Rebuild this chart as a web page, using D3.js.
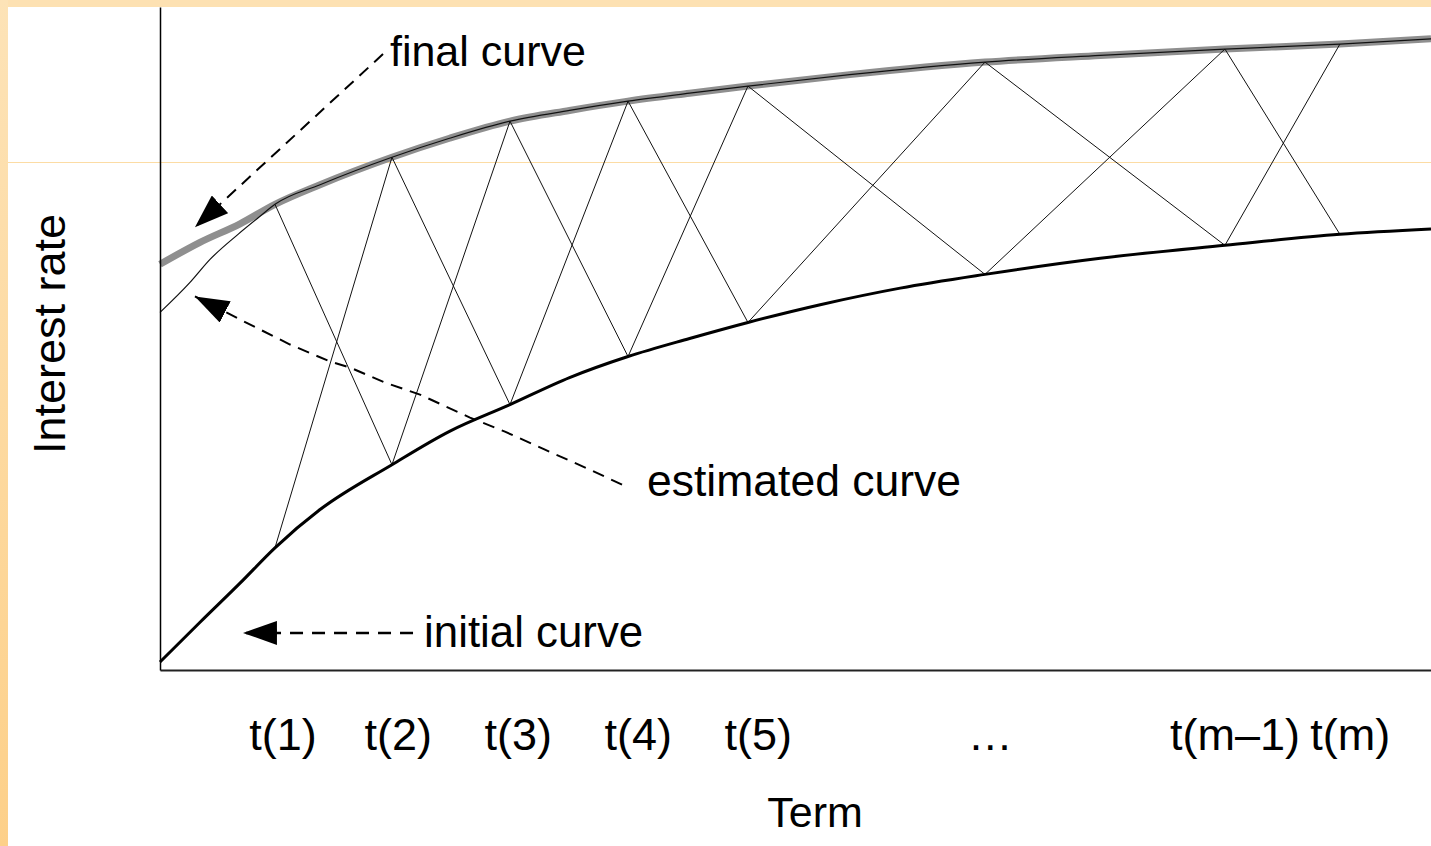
<!DOCTYPE html>
<html>
<head>
<meta charset="utf-8">
<script src="https://cdn.jsdelivr.net/npm/d3@7"></script>
<style>
  html, body { margin: 0; padding: 0; background: #ffffff; }
  svg { display: block; }
  text { font-family: "Liberation Sans", Arial, sans-serif; fill: #000; }
</style>
</head>
<body>
<svg id="chart" width="1431" height="846"></svg>
<script>
// ---------------- DATA ----------------
const tickLabels = ["t(1)", "t(2)", "t(3)", "t(4)", "t(5)", "…", "t(m–1)", "t(m)"];
const tickTerms  = [1.04, 2.02, 3.04, 4.06, 5.08, 7.05, 9.13, 10.11];

// node terms where the zig-zag lines meet the curves
const nodeTerms      = [0.977, 1.971, 2.974, 3.977, 4.996, 7.010, 9.049, 10.026];
const initialAtNodes = [1.843, 3.097, 4.003, 4.728, 5.242, 5.967, 6.405, 6.571];
const finalAtNodes   = [7.024, 7.734, 8.278, 8.580, 8.807, 9.169, 9.366, 9.441];

// initial curve
const initialTerms = [0, 0.34, 0.68, 0.977, 1.36, 1.971, 2.46, 2.974, 3.48, 3.977, 4.50, 4.996, 5.61, 6.29, 7.010, 7.99, 9.049, 10.026, 10.80];
const initialRates = [0.12, 0.72, 1.31, 1.843, 2.42, 3.097, 3.60, 4.003, 4.41, 4.728, 5.00, 5.242, 5.51, 5.76, 5.967, 6.21, 6.405, 6.571, 6.65];

// final curve
const finalTerms = [0, 0.34, 0.68, 0.977, 1.36, 1.971, 2.46, 2.974, 3.48, 3.977, 4.50, 4.996, 5.86, 7.010, 7.99, 9.049, 10.026, 10.80];
const finalRates = [6.12, 6.45, 6.73, 7.024, 7.32, 7.734, 8.02, 8.278, 8.44, 8.580, 8.70, 8.807, 8.98, 9.169, 9.27, 9.366, 9.441, 9.52];

// start of the estimated curve (it then follows the final curve)
const estimatedTerms = [0, 0.255, 0.425, 0.663, 0.850, 0.977];
const estimatedRates = [5.393, 5.846, 6.193, 6.571, 6.843, 7.024];

// annotation arrows (term, rate)
const finalArrowTerms = [1.895, 0.297];
const finalArrowRates = [9.290, 6.677];
const initialArrowTerms = [2.150, 0.705];
const initialArrowRates = [0.559, 0.559];
const estArrowTerms = [3.926, 3.654, 3.271, 2.931, 2.634, 2.209, 1.912, 1.614, 1.444, 1.105, 0.680, 0.297];
const estArrowRates = [2.795, 3.021, 3.323, 3.595, 3.807, 4.154, 4.335, 4.562, 4.653, 4.909, 5.287, 5.634];

// annotation labels
const annLabels = ["final curve", "estimated curve", "initial curve"];
const annTerms  = [1.954, 4.138, 2.244];
const annRates  = [9.109, 2.628, 0.347];

// ---------------- CHART ----------------
const W = 1431, H = 846;
const svg = d3.select("#chart");

// decorative border
const defs = svg.append("defs");
const grad = defs.append("linearGradient").attr("id", "leftGrad")
  .attr("x1", 0).attr("y1", 0).attr("x2", 0).attr("y2", 1);
grad.append("stop").attr("offset", "0%").attr("stop-color", "#fde3b7");
grad.append("stop").attr("offset", "100%").attr("stop-color", "#fdd089");

svg.append("rect").attr("x", 0).attr("y", 0).attr("width", W).attr("height", 7).attr("fill", "#fde1b2");
svg.append("rect").attr("x", 0).attr("y", 0).attr("width", 8).attr("height", H).attr("fill", "url(#leftGrad)");
svg.append("line").attr("x1", 8).attr("x2", W).attr("y1", 162.5).attr("y2", 162.5)
  .attr("stroke", "#fcdca4").attr("stroke-width", 1);

const x = d3.scaleLinear().domain([0, 10.8]).range([160, 1431]);
const y = d3.scaleLinear().domain([0, 10]).range([670, 7]);

// arrow marker
defs.append("marker").attr("id", "arrow")
  .attr("viewBox", "0 0 34 24").attr("refX", 34).attr("refY", 12)
  .attr("markerWidth", 34).attr("markerHeight", 24)
  .attr("markerUnits", "userSpaceOnUse").attr("orient", "auto")
  .append("path").attr("d", "M0,0 L34,12 L0,24 Z").attr("fill", "#000");

const line = d3.line().x(d => x(d[0])).y(d => y(d[1]));
const curve = d3.line().x(d => x(d[0])).y(d => y(d[1])).curve(d3.curveMonotoneX);
const zip = (a, b) => a.map((v, i) => [v, b[i]]);

// final curve (grey, thick)
const finalPts = zip(finalTerms, finalRates);
svg.append("path").attr("d", curve(finalPts)).attr("fill", "none")
  .attr("stroke", "#8f8f8f").attr("stroke-width", 7);

// zig-zag lines between nodes
const zg = svg.append("g").attr("fill", "none").attr("stroke", "#111").attr("stroke-width", 1);
for (let i = 0; i < nodeTerms.length - 1; i++) {
  zg.append("path").attr("d", line([[nodeTerms[i], initialAtNodes[i]], [nodeTerms[i + 1], finalAtNodes[i + 1]]]));
  zg.append("path").attr("d", line([[nodeTerms[i], finalAtNodes[i]], [nodeTerms[i + 1], initialAtNodes[i + 1]]]));
}

// estimated curve (thin black): start segment + along the final curve
const estPts = zip(estimatedTerms, estimatedRates).concat(finalPts.filter(p => p[0] > 0.977));
svg.append("path").attr("d", curve(estPts)).attr("fill", "none")
  .attr("stroke", "#111").attr("stroke-width", 1.2);

// initial curve (black, thick)
svg.append("path").attr("d", curve(zip(initialTerms, initialRates))).attr("fill", "none")
  .attr("stroke", "#000").attr("stroke-width", 3);

// axes
const xAxis = d3.axisBottom(x).tickValues(tickTerms)
  .tickFormat((d, i) => tickLabels[i]).tickSize(0).tickSizeOuter(0);
const gx = svg.append("g").attr("transform", "translate(0,670)").call(xAxis);
gx.select(".domain").attr("stroke", "#222").attr("stroke-width", 2);
gx.selectAll("text").attr("y", 80).attr("dy", 0)
  .style("font-family", '"Liberation Sans", Arial, sans-serif').style("font-size", "45px").attr("fill", "#000");

const yAxis = d3.axisLeft(y).tickValues([]).tickSizeOuter(0);
const gy = svg.append("g").attr("transform", "translate(160,0)").call(yAxis);
gy.select(".domain").attr("stroke", "#000").attr("stroke-width", 1.5);

// axis titles
svg.append("text").attr("x", 815).attr("y", 827).attr("text-anchor", "middle")
  .style("font-size", "43px").text("Term");
svg.append("text").attr("transform", "translate(65,334) rotate(-90)").attr("text-anchor", "middle")
  .style("font-size", "45px").text("Interest rate");

// annotation arrows
const ag = svg.append("g").attr("fill", "none").attr("stroke", "#000");
ag.append("path").attr("d", line(zip(finalArrowTerms, finalArrowRates)))
  .attr("stroke-width", 2).attr("stroke-dasharray", "12,8").attr("marker-end", "url(#arrow)");
ag.append("path").attr("d", line(zip(initialArrowTerms, initialArrowRates)))
  .attr("stroke-width", 2.5).attr("stroke-dasharray", "13,9").attr("marker-end", "url(#arrow)");
ag.append("path").attr("d", line(zip(estArrowTerms, estArrowRates)))
  .attr("stroke-width", 2).attr("stroke-dasharray", "12,8").attr("marker-end", "url(#arrow)");

// annotation labels
const annSizes = ["43px", "44.5px", "43.8px"];
svg.selectAll("text.ann").data(annLabels).enter().append("text").attr("class", "ann")
  .attr("x", (d, i) => x(annTerms[i])).attr("y", (d, i) => y(annRates[i]))
  .style("font-size", (d, i) => annSizes[i]).text(d => d);
</script>
</body>
</html>
